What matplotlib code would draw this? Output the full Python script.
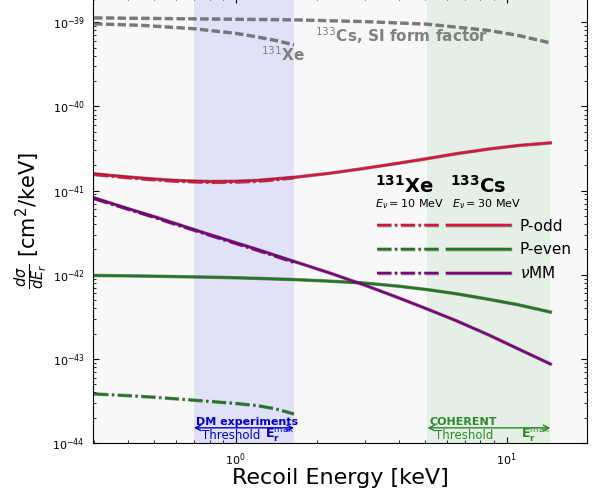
import numpy as np
import matplotlib
matplotlib.use("Agg")
import matplotlib.pyplot as plt
import matplotlib.patheffects as pe
from matplotlib.legend_handler import HandlerTuple

# ---------------- data ----------------
# SI form factor curves (gray dashed)
E_cs_si = [0.3, 0.7, 1.65, 3.0, 5.1, 8.6, 11.0, 14.5]
S_cs_si = [1.13e-39, 1.10e-39, 1.07e-39, 1.02e-39, 9.5e-40, 8.0e-40, 7.0e-40, 5.7e-40]
E_xe_si = [0.3, 0.45, 0.7, 1.0, 1.2, 1.4, 1.64]
S_xe_si = [9.6e-40, 9.2e-40, 8.4e-40, 7.4e-40, 6.7e-40, 6.1e-40, 5.4e-40]

# 133Cs, E_nu = 30 MeV (solid)
E_cs = [0.3, 0.4, 0.5, 0.6, 0.8, 1.0, 1.2, 1.65, 2.2, 3.0, 4.0, 5.1, 6.5, 8.6, 11.0, 14.5]
Podd_cs = [1.58e-41, 1.45e-41, 1.37e-41, 1.32e-41, 1.28e-41, 1.29e-41, 1.32e-41, 1.44e-41,
           1.60e-41, 1.84e-41, 2.12e-41, 2.40e-41, 2.74e-41, 3.12e-41, 3.43e-41, 3.69e-41]
Peven_cs = [9.8e-43, 9.7e-43, 9.6e-43, 9.5e-43, 9.35e-43, 9.2e-43, 9.05e-43, 8.75e-43,
            8.4e-43, 7.95e-43, 7.3e-43, 6.65e-43, 5.95e-43, 5.1e-43, 4.4e-43, 3.6e-43]
nuMM_cs = [8.2e-42, 6.1e-42, 4.9e-42, 4.05e-42, 3.0e-42, 2.4e-42, 2.0e-42, 1.43e-42,
           1.06e-42, 7.5e-43, 5.3e-43, 3.9e-43, 2.85e-43, 1.92e-43, 1.32e-43, 8.7e-44]

# 131Xe, E_nu = 10 MeV (dash-dot)
E_xe = [0.3, 0.4, 0.5, 0.6, 0.8, 1.0, 1.2, 1.4, 1.64]
Podd_xe = [1.55e-41, 1.42e-41, 1.34e-41, 1.29e-41, 1.25e-41, 1.26e-41, 1.29e-41, 1.34e-41, 1.42e-41]
Peven_xe = [3.83e-44, 3.65e-44, 3.5e-44, 3.35e-44, 3.12e-44, 2.95e-44, 2.78e-44, 2.55e-44, 2.21e-44]
nuMM_xe = [8.0e-42, 6.0e-42, 4.8e-42, 3.95e-42, 2.95e-42, 2.35e-42, 1.95e-42, 1.66e-42, 1.40e-42]

# experiment windows [keV]
dm_window = [0.7, 1.64]
coherent_window = [5.1, 14.5]

labels = ["P-odd", "P-even", r"$\nu$MM"]
colors = ["crimson", "#1f7a1f", "purple"]

# ---------------- figure ----------------
fig = plt.figure(figsize=(6.09, 4.95), dpi=100)
ax = fig.add_axes([93/609, 52/495, 494/609, 446/495])
ax.set_facecolor("#f8f8f8")
ax.set_xscale("log")
ax.set_yscale("log")
ax.set_xlim(0.297, 19.8)
ax.set_ylim(1e-44, 2e-39)

ax.axvspan(*dm_window, color="blue", alpha=0.09, lw=0, zorder=0)
ax.axvspan(*coherent_window, color="green", alpha=0.07, lw=0, zorder=0)

stroke = [pe.Stroke(linewidth=2.5, foreground="0.15", alpha=0.55), pe.Normal()]

ax.plot(E_cs_si, S_cs_si, ls="--", color="#777777", lw=1.6, path_effects=stroke)
ax.plot(E_xe_si, S_xe_si, ls="--", color="#777777", lw=1.6, path_effects=stroke)

dashdot = (0, (6.0, 1.5, 1.0, 1.5))
cs_lines, xe_lines = [], []
for ys_cs, ys_xe, c in zip([Podd_cs, Peven_cs, nuMM_cs], [Podd_xe, Peven_xe, nuMM_xe], colors):
    l1, = ax.plot(E_cs, ys_cs, ls="-", color=c, lw=1.7, path_effects=stroke)
    l2, = ax.plot(E_xe, ys_xe, ls=dashdot, color=c, lw=1.7, path_effects=stroke)
    cs_lines.append(l1)
    xe_lines.append(l2)

ax.legend([(x, c) for x, c in zip(xe_lines, cs_lines)], labels,
          handler_map={tuple: HandlerTuple(ndivide=None, pad=0.5)},
          handlelength=8.7, handletextpad=0.65, fontsize=11, frameon=False,
          loc="upper left", bbox_to_anchor=(0.575, 0.503), borderaxespad=0,
          borderpad=0, labelspacing=0.55)

ax.text(0.571, 0.577, r"$\mathbf{^{131}Xe}$", transform=ax.transAxes,
        fontsize=14, fontweight="bold", ha="left", va="center")
ax.text(0.723, 0.577, r"$\mathbf{^{133}Cs}$", transform=ax.transAxes,
        fontsize=14, fontweight="bold", ha="left", va="center")
ax.text(0.571, 0.535, r"$E_\nu = 10$ MeV", transform=ax.transAxes,
        fontsize=8, ha="left", va="center")
ax.text(0.727, 0.535, r"$E_\nu = 30$ MeV", transform=ax.transAxes,
        fontsize=8, ha="left", va="center")

ax.text(1.80, 5.4e-40, r"$^{131}$Xe", color="gray", fontsize=11,
        fontweight="bold", ha="right", va="top")
ax.text(1.96, 9.2e-40, r"$^{133}$Cs, SI form factor", color="gray", fontsize=11,
        fontweight="bold", ha="left", va="top")

# experiment annotations
for win, col, name in [(dm_window, "mediumblue", "DM experiments"),
                       (coherent_window, "#2a8a2a", "COHERENT")]:
    tr = ax.get_xaxis_transform()
    ax.annotate("", xy=(win[0], 0.034), xytext=(win[1], 0.034), xycoords=tr,
                textcoords=tr, arrowprops=dict(arrowstyle="<->", color=col, lw=1,
                                               shrinkA=0, shrinkB=0))
    ax.text(win[0] * 1.015, 0.048, name, transform=tr, color=col, fontsize=8,
            fontweight="bold", ha="left", va="center")
    ax.text(win[0] * 1.07, 0.016, "Threshold", transform=tr, color=col, fontsize=8.5,
            ha="left", va="center")
    ax.text(win[1], 0.018, r"$\mathbf{E}_\mathbf{r}^{\rm max}$", transform=tr,
            color=col, fontsize=9, ha="right", va="center")

ax.tick_params(which="both", direction="in", top=True, right=True, labelsize=8)
ax.tick_params(which="major", length=4, pad=6)
ax.tick_params(which="minor", length=2)

ax.set_xlabel("Recoil Energy [keV]", fontsize=16, labelpad=0)
ax.set_ylabel(r"$\frac{d\sigma}{dE_r}$ [cm$^2$/keV]", fontsize=15, labelpad=2)

fig.savefig("out.png", dpi=100)
